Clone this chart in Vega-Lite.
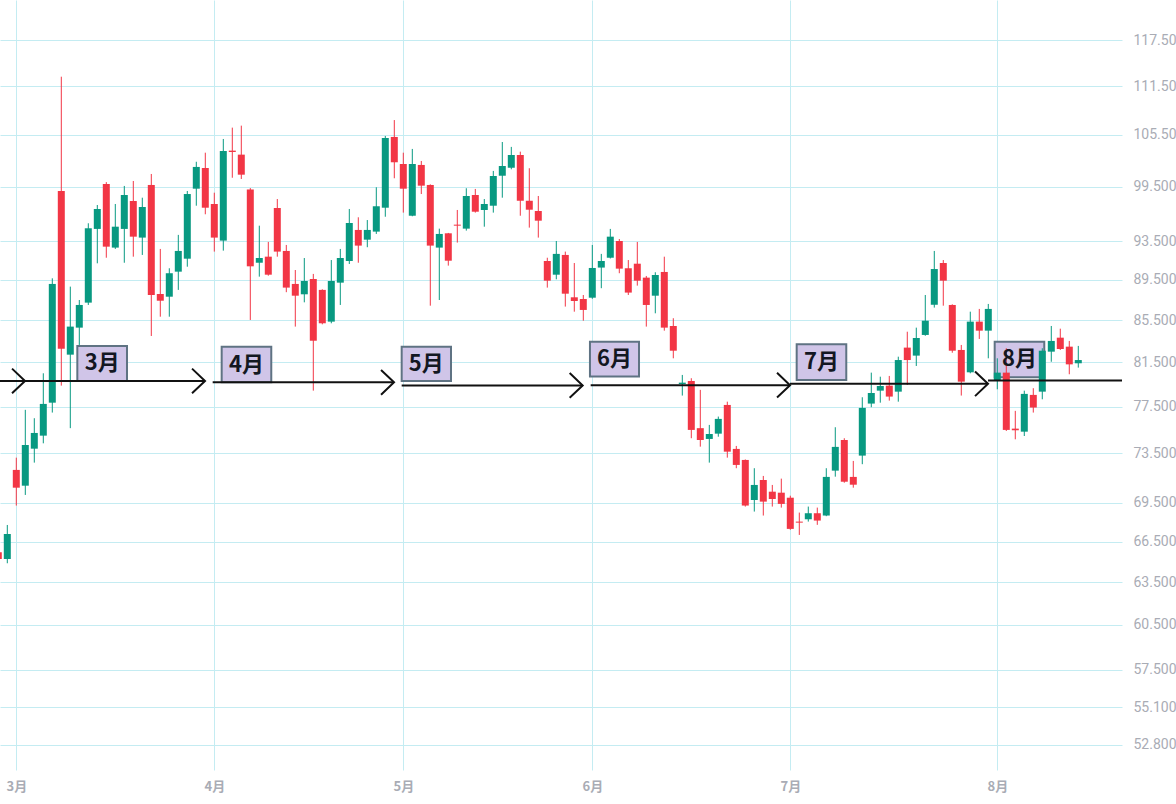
{
  "$schema": "https://vega.github.io/schema/vega-lite/v6.json",
  "width": 1122,
  "height": 770,
  "autosize": {"type": "none"},
  "padding": {"left": 0, "top": 0, "right": 54, "bottom": 34},
  "background": "#ffffff",
  "config": {"view": {"stroke": null}, "scale": {"continuousPadding": 0}},
  "datasets": {
    "candles": [
      {"bar": -2, "o": 65.7, "h": 66.0, "l": 65.0, "c": 65.2},
      {"bar": -1, "o": 65.21, "h": 67.77, "l": 64.89, "c": 67.08},
      {"bar": 0, "o": 72.14, "h": 73.15, "l": 69.28, "c": 70.7},
      {"bar": 1, "o": 70.86, "h": 77.23, "l": 70.12, "c": 74.21},
      {"bar": 2, "o": 73.9, "h": 76.5, "l": 72.74, "c": 75.23},
      {"bar": 3, "o": 75.0, "h": 80.5, "l": 74.35, "c": 77.75},
      {"bar": 4, "o": 77.86, "h": 89.66, "l": 76.99, "c": 89.09},
      {"bar": 5, "o": 99.0, "h": 112.71, "l": 79.38, "c": 82.78},
      {"bar": 6, "o": 82.22, "h": 88.82, "l": 75.64, "c": 84.88},
      {"bar": 7, "o": 84.78, "h": 87.48, "l": 83.13, "c": 86.99},
      {"bar": 8, "o": 87.22, "h": 95.44, "l": 86.99, "c": 94.9},
      {"bar": 9, "o": 94.83, "h": 97.44, "l": 91.2, "c": 97.0},
      {"bar": 10, "o": 99.79, "h": 100.0, "l": 91.78, "c": 92.94},
      {"bar": 11, "o": 92.84, "h": 97.55, "l": 92.7, "c": 95.07},
      {"bar": 12, "o": 94.83, "h": 99.57, "l": 91.26, "c": 98.55},
      {"bar": 13, "o": 97.88, "h": 100.13, "l": 91.89, "c": 94.0},
      {"bar": 14, "o": 93.9, "h": 98.25, "l": 92.07, "c": 97.22},
      {"bar": 15, "o": 99.68, "h": 100.93, "l": 83.98, "c": 87.98},
      {"bar": 16, "o": 88.08, "h": 92.7, "l": 85.84, "c": 87.41},
      {"bar": 17, "o": 87.81, "h": 90.69, "l": 85.84, "c": 90.18},
      {"bar": 18, "o": 90.34, "h": 94.19, "l": 88.49, "c": 92.49},
      {"bar": 19, "o": 91.68, "h": 99.0, "l": 90.85, "c": 98.66},
      {"bar": 20, "o": 99.26, "h": 102.34, "l": 97.36, "c": 101.74},
      {"bar": 21, "o": 101.62, "h": 103.4, "l": 96.42, "c": 97.14},
      {"bar": 22, "o": 97.55, "h": 98.81, "l": 92.42, "c": 93.9},
      {"bar": 23, "o": 93.58, "h": 105.02, "l": 92.52, "c": 103.6},
      {"bar": 24, "o": 103.64, "h": 106.38, "l": 100.5, "c": 103.48},
      {"bar": 25, "o": 103.17, "h": 106.62, "l": 100.36, "c": 100.85},
      {"bar": 26, "o": 99.17, "h": 99.33, "l": 85.52, "c": 90.89},
      {"bar": 27, "o": 91.26, "h": 95.18, "l": 89.83, "c": 91.75},
      {"bar": 28, "o": 91.89, "h": 93.44, "l": 89.93, "c": 90.03},
      {"bar": 29, "o": 97.11, "h": 98.1, "l": 91.89, "c": 92.42},
      {"bar": 30, "o": 92.49, "h": 93.12, "l": 88.26, "c": 88.72},
      {"bar": 31, "o": 89.09, "h": 90.51, "l": 84.88, "c": 87.91},
      {"bar": 32, "o": 88.05, "h": 91.75, "l": 87.25, "c": 89.39},
      {"bar": 33, "o": 89.59, "h": 90.11, "l": 78.93, "c": 83.53},
      {"bar": 34, "o": 88.49, "h": 88.55, "l": 85.1, "c": 85.2},
      {"bar": 35, "o": 85.36, "h": 91.54, "l": 85.2, "c": 89.39},
      {"bar": 36, "o": 89.22, "h": 92.7, "l": 86.99, "c": 91.75},
      {"bar": 37, "o": 91.44, "h": 97.0, "l": 91.13, "c": 95.47},
      {"bar": 38, "o": 94.72, "h": 96.09, "l": 91.26, "c": 93.05},
      {"bar": 39, "o": 93.68, "h": 95.79, "l": 92.88, "c": 94.72},
      {"bar": 40, "o": 94.54, "h": 99.42, "l": 94.29, "c": 97.3},
      {"bar": 41, "o": 97.14, "h": 105.38, "l": 96.15, "c": 105.14},
      {"bar": 42, "o": 105.26, "h": 107.3, "l": 100.44, "c": 102.28},
      {"bar": 43, "o": 102.08, "h": 103.4, "l": 96.6, "c": 99.26},
      {"bar": 44, "o": 96.26, "h": 103.84, "l": 96.2, "c": 102.08},
      {"bar": 45, "o": 101.97, "h": 102.43, "l": 98.66, "c": 99.6},
      {"bar": 46, "o": 99.68, "h": 99.75, "l": 86.92, "c": 93.05},
      {"bar": 47, "o": 92.84, "h": 94.86, "l": 87.48, "c": 94.29},
      {"bar": 48, "o": 94.36, "h": 94.4, "l": 90.96, "c": 91.47},
      {"bar": 49, "o": 95.29, "h": 96.89, "l": 93.37, "c": 95.18},
      {"bar": 50, "o": 94.86, "h": 99.31, "l": 94.65, "c": 98.44},
      {"bar": 51, "o": 98.55, "h": 99.23, "l": 96.6, "c": 96.7},
      {"bar": 52, "o": 96.89, "h": 98.1, "l": 95.07, "c": 97.55},
      {"bar": 53, "o": 97.36, "h": 101.28, "l": 96.6, "c": 100.7},
      {"bar": 54, "o": 100.73, "h": 104.66, "l": 98.25, "c": 101.85},
      {"bar": 55, "o": 101.66, "h": 104.08, "l": 101.47, "c": 103.13},
      {"bar": 56, "o": 103.13, "h": 103.52, "l": 96.26, "c": 97.91},
      {"bar": 57, "o": 97.91, "h": 101.59, "l": 94.97, "c": 96.92},
      {"bar": 58, "o": 96.78, "h": 98.44, "l": 93.9, "c": 95.72},
      {"bar": 59, "o": 91.44, "h": 91.78, "l": 88.72, "c": 89.42},
      {"bar": 60, "o": 90.03, "h": 93.54, "l": 89.56, "c": 92.18},
      {"bar": 61, "o": 92.07, "h": 92.42, "l": 86.83, "c": 88.11},
      {"bar": 62, "o": 87.75, "h": 91.23, "l": 86.33, "c": 87.38},
      {"bar": 63, "o": 87.58, "h": 87.98, "l": 85.45, "c": 86.5},
      {"bar": 64, "o": 87.71, "h": 93.12, "l": 87.6, "c": 90.72},
      {"bar": 65, "o": 90.76, "h": 92.18, "l": 88.66, "c": 91.44},
      {"bar": 66, "o": 91.78, "h": 94.83, "l": 91.7, "c": 94.0},
      {"bar": 67, "o": 93.54, "h": 93.75, "l": 90.18, "c": 90.65},
      {"bar": 68, "o": 90.69, "h": 91.54, "l": 87.98, "c": 88.22},
      {"bar": 69, "o": 91.16, "h": 93.44, "l": 88.92, "c": 89.42},
      {"bar": 70, "o": 89.73, "h": 89.9, "l": 84.88, "c": 86.99},
      {"bar": 71, "o": 87.91, "h": 90.28, "l": 86.17, "c": 90.0},
      {"bar": 72, "o": 90.31, "h": 91.89, "l": 84.49, "c": 84.78},
      {"bar": 73, "o": 84.94, "h": 85.69, "l": 81.88, "c": 82.59},
      {"bar": 74, "o": 79.53, "h": 80.35, "l": 78.49, "c": 79.65},
      {"bar": 75, "o": 79.8, "h": 80.05, "l": 74.78, "c": 75.49},
      {"bar": 76, "o": 75.64, "h": 79.0, "l": 74.07, "c": 74.63},
      {"bar": 77, "o": 74.72, "h": 75.92, "l": 72.74, "c": 75.14},
      {"bar": 78, "o": 75.17, "h": 76.64, "l": 74.91, "c": 76.44},
      {"bar": 79, "o": 77.66, "h": 77.95, "l": 73.15, "c": 73.65},
      {"bar": 80, "o": 73.88, "h": 74.13, "l": 72.28, "c": 72.55},
      {"bar": 81, "o": 72.96, "h": 73.0, "l": 69.2, "c": 69.28},
      {"bar": 82, "o": 69.72, "h": 72.28, "l": 68.81, "c": 70.92},
      {"bar": 83, "o": 71.32, "h": 71.65, "l": 68.5, "c": 69.59},
      {"bar": 84, "o": 70.38, "h": 70.92, "l": 69.2, "c": 69.8},
      {"bar": 85, "o": 70.3, "h": 71.43, "l": 69.12, "c": 69.41},
      {"bar": 86, "o": 69.9, "h": 70.06, "l": 67.4, "c": 67.47},
      {"bar": 87, "o": 68.03, "h": 68.73, "l": 67.01, "c": 67.95},
      {"bar": 88, "o": 68.21, "h": 69.2, "l": 68.03, "c": 68.68},
      {"bar": 89, "o": 68.68, "h": 69.12, "l": 67.78, "c": 68.11},
      {"bar": 90, "o": 68.5, "h": 72.28, "l": 68.45, "c": 71.57},
      {"bar": 91, "o": 72.08, "h": 75.72, "l": 71.59, "c": 74.05},
      {"bar": 92, "o": 74.63, "h": 74.78, "l": 71.1, "c": 71.18},
      {"bar": 93, "o": 71.57, "h": 72.88, "l": 70.7, "c": 70.94},
      {"bar": 94, "o": 73.32, "h": 78.34, "l": 72.61, "c": 77.4},
      {"bar": 95, "o": 77.78, "h": 80.56, "l": 77.46, "c": 78.72},
      {"bar": 96, "o": 78.93, "h": 80.19, "l": 77.86, "c": 79.35},
      {"bar": 97, "o": 79.38, "h": 80.26, "l": 78.04, "c": 78.4},
      {"bar": 98, "o": 78.84, "h": 82.03, "l": 77.95, "c": 81.72},
      {"bar": 99, "o": 82.88, "h": 84.39, "l": 79.44, "c": 81.72},
      {"bar": 100, "o": 82.13, "h": 84.78, "l": 81.17, "c": 83.79},
      {"bar": 101, "o": 84.08, "h": 87.98, "l": 84.0, "c": 85.45},
      {"bar": 102, "o": 87.01, "h": 92.49, "l": 86.73, "c": 90.61},
      {"bar": 103, "o": 91.23, "h": 91.54, "l": 86.92, "c": 89.42},
      {"bar": 104, "o": 86.99, "h": 87.05, "l": 82.4, "c": 82.59},
      {"bar": 105, "o": 82.66, "h": 83.13, "l": 78.49, "c": 79.74},
      {"bar": 106, "o": 80.59, "h": 86.33, "l": 80.5, "c": 85.36},
      {"bar": 107, "o": 85.36, "h": 86.6, "l": 83.7, "c": 84.49},
      {"bar": 108, "o": 84.49, "h": 87.09, "l": 81.88, "c": 86.6},
      {"bar": 109, "o": 79.89, "h": 81.88, "l": 79.05, "c": 80.56},
      {"bar": 110, "o": 80.56, "h": 82.82, "l": 75.4, "c": 75.49},
      {"bar": 111, "o": 75.6, "h": 77.14, "l": 74.69, "c": 75.46},
      {"bar": 112, "o": 75.34, "h": 78.93, "l": 74.97, "c": 78.64},
      {"bar": 113, "o": 78.55, "h": 79.15, "l": 76.99, "c": 77.43},
      {"bar": 114, "o": 78.84, "h": 82.82, "l": 78.16, "c": 82.59},
      {"bar": 115, "o": 82.5, "h": 84.94, "l": 81.56, "c": 83.51},
      {"bar": 116, "o": 83.82, "h": 84.68, "l": 82.66, "c": 82.75},
      {"bar": 117, "o": 82.97, "h": 83.51, "l": 80.41, "c": 81.32},
      {"bar": 118, "o": 81.42, "h": 83.04, "l": 81.02, "c": 81.72}
    ],
    "labels": [
      {"label": "3月", "x1": 6.78, "x2": 12.3, "top": 83.03, "bottom": 79.8, "xm": 9.54, "ym": 81.4},
      {"label": "4月", "x1": 22.82, "x2": 28.33, "top": 82.96, "bottom": 79.68, "xm": 25.58, "ym": 81.3},
      {"label": "5月", "x1": 42.82, "x2": 48.3, "top": 82.96, "bottom": 79.8, "xm": 45.56, "ym": 81.36},
      {"label": "6月", "x1": 63.74, "x2": 69.19, "top": 83.44, "bottom": 80.2, "xm": 66.47, "ym": 81.8},
      {"label": "7月", "x1": 86.71, "x2": 92.22, "top": 83.19, "bottom": 79.89, "xm": 89.47, "ym": 81.52},
      {"label": "8月", "x1": 108.71, "x2": 114.22, "top": 83.44, "bottom": 80.14, "xm": 111.47, "ym": 81.77}
    ],
    "arrows": [
      {"from": -4, "to": 0.97, "price": 79.8, "head": true},
      {"from": 0, "to": 20.97, "price": 79.8, "head": true},
      {"from": 21.82, "to": 41.97, "price": 79.68, "head": true},
      {"from": 42.82, "to": 62.93, "price": 79.4, "head": true},
      {"from": 63.82, "to": 85.97, "price": 79.42, "head": true},
      {"from": 85.97, "to": 107.97, "price": 79.55, "head": true},
      {"from": 107.97, "to": 130, "price": 79.85, "head": false}
    ]
  },
  "layer": [
    {
      "data": {"name": "labels"},
      "mark": {"type": "rect", "fill": "#d0c5e8", "stroke": "#5f7383", "strokeWidth": 2},
      "encoding": {
        "x": {
          "field": "x1",
          "type": "quantitative",
          "scale": {"domain": [-1.811, 122.856], "nice": false, "zero": false, "padding": 0},
          "axis": {
            "values": [0, 22, 43, 64, 86, 109],
            "labelExpr": "datum.value == 0 ? '3月' : datum.value == 22 ? '4月' : datum.value == 43 ? '5月' : datum.value == 64 ? '6月' : datum.value == 86 ? '7月' : '8月'",
            "grid": true,
            "gridColor": "#c4ecf2",
            "gridWidth": 1,
            "domain": false,
            "ticks": false,
            "labelFlush": false,
            "labelColor": "#a9acb5",
            "labelFont": "Noto Sans CJK JP",
            "labelFontSize": 13,
            "labelFontWeight": "bold",
            "labelPadding": 10,
            "title": null
          }
        },
        "x2": {"field": "x2"},
        "y": {
          "field": "top",
          "type": "quantitative",
          "scale": {"type": "log", "domain": [51.32, 122.96], "nice": false, "zero": false},
          "axis": {
            "orient": "right",
            "values": [52.8, 55.1, 57.5, 60.5, 63.5, 66.5, 69.5, 73.5, 77.5, 81.5, 85.5, 89.5, 93.5, 99.5, 105.5, 111.5, 117.5, 123.5],
            "format": ".3f",
            "grid": true,
            "gridColor": "#c4ecf2",
            "gridWidth": 1,
            "domain": false,
            "ticks": false,
            "labelOverlap": false,
            "labelColor": "#a9acb5",
            "labelFont": "Roboto",
            "labelFontSize": 14,
            "labelPadding": 11,
            "labelAlign": "left",
            "labelBaseline": "middle",
            "title": null
          }
        },
        "y2": {"field": "bottom"}
      }
    },
    {
      "data": {"name": "candles"},
      "mark": {"type": "rule", "strokeWidth": 1},
      "encoding": {
        "x": {"field": "bar", "type": "quantitative", "scale": {"domain": [-1.811, 122.856], "nice": false, "zero": false, "padding": 0}, "axis": {"title": null}},
        "y": {"field": "l", "type": "quantitative", "scale": {"type": "log", "domain": [51.32, 122.96], "nice": false, "zero": false}, "axis": {"title": null}},
        "y2": {"field": "h"},
        "color": {"condition": {"test": "datum.c >= datum.o", "value": "#089981"}, "value": "#f23645"}
      }
    },
    {
      "data": {"name": "candles"},
      "mark": {"type": "bar", "size": 7},
      "encoding": {
        "x": {"field": "bar", "type": "quantitative", "scale": {"domain": [-1.811, 122.856], "nice": false, "zero": false, "padding": 0}, "axis": {"title": null}},
        "y": {"field": "o", "type": "quantitative", "scale": {"type": "log", "domain": [51.32, 122.96], "nice": false, "zero": false}, "axis": {"title": null}},
        "y2": {"field": "c"},
        "color": {"condition": {"test": "datum.c >= datum.o", "value": "#089981"}, "value": "#f23645"}
      }
    },
    {
      "data": {"name": "arrows"},
      "mark": {"type": "rule", "color": "#111111", "strokeWidth": 2, "clip": true},
      "encoding": {
        "x": {"field": "from", "type": "quantitative", "scale": {"domain": [-1.811, 122.856], "nice": false, "zero": false, "padding": 0}, "axis": {"title": null}},
        "x2": {"field": "to"},
        "y": {"field": "price", "type": "quantitative", "scale": {"type": "log", "domain": [51.32, 122.96], "nice": false, "zero": false}, "axis": {"title": null}}
      }
    },
    {
      "data": {"name": "arrows"},
      "transform": [{"filter": "datum.head"}],
      "mark": {"type": "point", "shape": "M-1,-0.95L0,0L-1,0.95", "size": 676, "filled": false, "stroke": "#111111", "strokeWidth": 2, "opacity": 1, "clip": true},
      "encoding": {
        "x": {"field": "to", "type": "quantitative", "scale": {"domain": [-1.811, 122.856], "nice": false, "zero": false, "padding": 0}, "axis": {"title": null}},
        "y": {"field": "price", "type": "quantitative", "scale": {"type": "log", "domain": [51.32, 122.96], "nice": false, "zero": false}, "axis": {"title": null}}
      }
    },
    {
      "data": {"name": "labels"},
      "mark": {"type": "text", "font": "Noto Sans CJK JP", "fontSize": 22, "fontWeight": "bold", "color": "#131722", "align": "center", "baseline": "middle"},
      "encoding": {
        "x": {"field": "xm", "type": "quantitative", "scale": {"domain": [-1.811, 122.856], "nice": false, "zero": false, "padding": 0}, "axis": {"title": null}},
        "y": {"field": "ym", "type": "quantitative", "scale": {"type": "log", "domain": [51.32, 122.96], "nice": false, "zero": false}, "axis": {"title": null}},
        "text": {"field": "label"}
      }
    }
  ]
}
